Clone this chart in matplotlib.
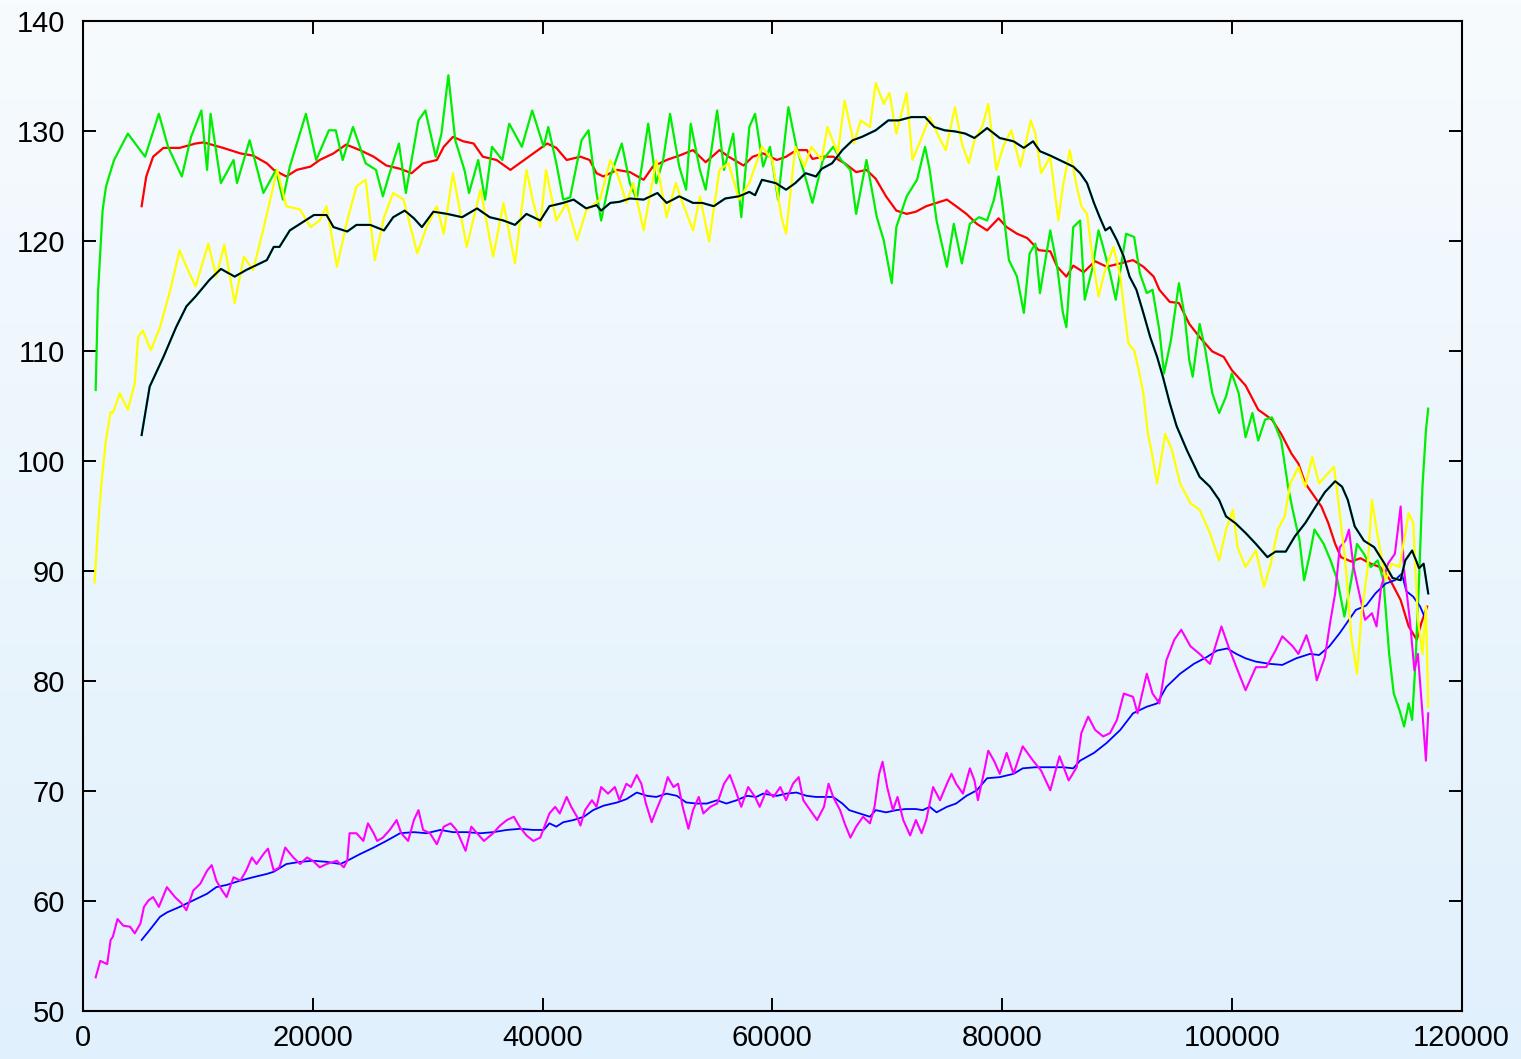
import numpy as np
import matplotlib
matplotlib.use("Agg")
import matplotlib.pyplot as plt
from matplotlib.colors import LinearSegmentedColormap

# ---- data ----
red_x = [5100, 5500, 6100, 7000, 8400, 9800, 10500, 12200, 13700, 14800, 16000, 16600, 17700, 18600,
         19800, 20600, 21800, 22900, 24100, 25300, 26400, 27600, 28600, 29600, 30800, 31400, 32200,
         33100, 34000, 34800, 36000, 37200, 38000, 39200, 40400, 41200, 42100, 43300, 44100, 44700,
         45300, 46500, 47600, 48800, 49600, 50800, 51900, 53100, 54200, 55400, 56200, 57500, 58300,
         59200, 60400, 61200, 62100, 63000, 63500, 64400, 65300, 66300, 67300, 68200, 69000, 69900,
         70800, 71700, 72500, 73400, 74300, 75200, 76000, 76900, 77800, 78700, 79700, 80400, 81300,
         82200, 83200, 84200, 84800, 85600, 86200, 87100, 88100, 89100, 90300, 91400, 92300, 93200,
         93700, 94600, 95400, 96300, 97200, 98300, 99300, 100000, 101200, 102300, 103500, 104300,
         105200, 105800, 106400, 107200, 107800, 108400, 109000, 109500, 110400, 111200, 112100,
         112900, 113800, 114700, 115400, 116100, 116500, 117000]
red_y = [123.2, 125.9, 127.7, 128.5, 128.5, 128.9, 129.0, 128.5, 128.0, 127.8, 127.1, 126.5, 125.9, 126.5,
         126.8, 127.4, 128.0, 128.8, 128.3, 127.7, 126.9, 126.6, 126.2, 127.1, 127.4, 128.6, 129.5,
         129.1, 128.9, 127.7, 127.4, 126.5, 127.1, 128.0, 128.9, 128.5, 127.4, 127.7, 127.4, 126.2,
         125.9, 126.5, 126.3, 125.6, 126.8, 127.4, 127.8, 128.3, 127.2, 128.3, 127.7, 126.9, 127.7,
         128.0, 127.4, 127.7, 128.3, 128.3, 127.5, 127.7, 127.7, 127.1, 126.3, 126.5, 125.7, 124.1,
         122.8, 122.5, 122.7, 123.2, 123.5, 123.8, 123.2, 122.5, 121.6, 121.0, 122.1, 121.3, 120.7,
         120.3, 119.2, 119.1, 117.7, 116.8, 117.8, 117.2, 118.2, 117.7, 118.0, 118.3, 117.7, 116.8,
         115.6, 114.5, 114.4, 112.5, 111.3, 110.0, 109.5, 108.3, 106.9, 104.7, 103.8, 102.5,
         100.7, 99.8, 98.0, 96.8, 95.9, 94.4, 92.5, 91.3, 90.9, 91.2, 90.7,
         90.4, 89.2, 87.4, 85.0, 83.8, 85.3, 86.8]

green_x = [1100, 1300, 1700, 2000, 2700, 3900, 5400, 6600, 7400, 8600, 9400, 10300, 10800, 11100, 12000,
           13100, 13400, 14500, 15700, 16800, 17400, 18000, 19400, 20300, 21400, 22000, 22600, 23500,
           24600, 25500, 26100, 26600, 27500, 28100, 29200, 29800, 30700, 31200, 31800, 32400, 33200,
           33600, 34400, 35000, 35600, 36500, 37100, 38200, 39100, 40100, 40500, 41200, 41800, 42400,
           43400, 44000, 44700, 45100, 45900, 46900, 47600, 48200, 49200, 49900, 50500, 51100, 51900,
           52500, 52900, 53700, 54200, 55200, 55800, 56600, 57300, 58000, 58500, 59200, 59800, 60500,
           61400, 62100, 62700, 63500, 64400, 65300, 66000, 66800, 67300, 68200, 69100, 69700, 70400,
           70800, 71700, 72600, 73300, 73700, 74300, 75200, 75800, 76500, 77200, 78000, 78700, 79300,
           79700, 80100, 80600, 81300, 81900, 82400, 82900, 83300, 84200, 84800, 85300, 85600, 86200,
           86800, 87200, 87900, 88400, 88800, 89400, 89900, 90800, 91500, 92000, 92600, 93100, 93700,
           94100, 94700, 95400, 95900, 96300, 96600, 97200, 97700, 98300, 98900, 99500, 100000, 100600,
           101200, 101800, 102300, 102900, 103500, 104300, 104900, 105300, 105900, 106300, 106800,
           107200, 108000, 108600, 109200, 109800, 110400, 110900, 111500, 112100, 112700, 113200,
           113700, 114100, 114600, 115000, 115400, 115700, 116000, 116300, 116600, 116900, 117100]
green_y = [106.5, 115.3, 122.8, 125.0, 127.4, 129.8, 127.7, 131.6, 128.6, 125.9, 129.5, 131.9, 126.5, 131.6, 125.3,
           127.4, 125.3, 129.2, 124.4, 126.5, 123.8, 126.8, 131.6, 127.4, 130.1, 130.1, 127.4, 130.4,
           127.1, 126.5, 124.1, 125.9, 128.9, 124.4, 131.0, 131.9, 127.7, 129.8, 135.1, 129.2, 126.5,
           124.4, 127.4, 123.8, 128.6, 127.4, 130.7, 128.6, 131.9, 128.6, 130.4, 127.1, 123.8, 124.0,
           129.2, 130.1, 124.4, 121.9, 125.9, 128.9, 125.3, 123.8, 130.7, 125.3, 127.4, 131.6, 126.8,
           124.7, 130.7, 126.5, 124.7, 131.9, 126.5, 129.8, 122.2, 130.4, 131.6, 126.8, 128.6, 123.8,
           132.2, 128.6, 126.5, 123.5, 127.4, 128.6, 127.4, 126.5, 122.5, 127.4, 122.2, 120.1, 116.2,
           121.3, 124.1, 125.6, 128.6, 126.5, 121.9, 117.7, 121.6, 118.0, 121.6, 122.2, 121.9, 123.8,
           125.9, 122.8, 118.3, 116.8, 113.5, 118.9, 119.8, 115.3, 121.0, 117.7, 113.5, 112.2, 121.3,
           121.9, 114.7, 117.7, 121.0, 119.5, 117.1, 114.7, 120.7, 120.4, 117.1, 115.3, 115.6, 111.9,
           108.0, 111.0, 116.2, 113.2, 109.2, 107.7, 112.5, 110.1, 106.2, 104.4, 105.9, 108.0, 106.2,
           102.2, 104.4, 101.9, 103.8, 104.0, 101.9, 97.7, 95.6, 92.8, 89.2, 91.6,
           93.8, 92.5, 91.0, 89.2, 85.9, 89.2, 92.5, 91.6, 90.4, 91.0, 89.2,
           82.5, 78.9, 77.4, 75.9, 78.0, 76.5, 81.9, 89.2, 97.7, 102.8, 104.8]

yellow_x = [1000, 1300, 1600, 2000, 2400, 2600, 3200, 3900, 4500, 4800, 5200, 5900, 6700, 7600, 8400, 9000,
            9800, 10900, 11600, 12300, 13200, 14000, 14800, 15600, 16300, 16900, 17700, 18900, 19800,
            20600, 21200, 22100, 23000, 23800, 24600, 25400, 26200, 27000, 27900, 29100, 29900, 30800,
            31400, 32200, 33400, 34600, 35700, 36600, 37600, 38600, 39200, 39800, 40300, 41200, 42100,
            43000, 43800, 45000, 45900, 46600, 47300, 47900, 48800, 49900, 50800, 51600, 52200, 53100,
            53700, 54500, 55400, 56200, 57100, 58000, 59100, 60000, 60800, 61200, 62000, 62800, 63400,
            64300, 64800, 65700, 66300, 67100, 67700, 68500, 69000, 69700, 70200, 70800, 71700, 72200,
            72800, 73700, 74500, 75100, 75900, 76500, 77100, 77600, 78300, 78800, 79500, 80100, 80800,
            81600, 82500, 82900, 83400, 84200, 84900, 85300, 85900, 86500, 86900, 87400, 87900, 88400,
            88900, 89700, 90300, 90600, 91000, 91500, 91900, 92300, 92700, 93000, 93500, 94200, 94800,
            95500, 96400, 97200, 98100, 98900, 99500, 100100, 100500, 101200, 102100, 102800, 103400,
            104000, 104600, 105100, 105800, 106400, 107000, 107600, 108100, 108900, 109400, 109900,
            110400, 110900, 111300, 111800, 112200, 112700, 113400, 113900, 114600, 115400, 115800,
            116200, 116600, 116900, 117100]
yellow_y = [89.0, 94.0, 98.0, 102.0, 104.5, 104.4, 106.2, 104.7, 107.1, 111.3, 111.9, 110.1, 112.2, 115.6, 119.2, 117.7,
            115.9, 119.8, 116.8, 119.7, 114.4, 118.6, 117.4, 120.7, 123.8, 126.5, 123.2, 122.9, 121.3,
            121.9, 123.2, 117.7, 121.9, 125.0, 125.6, 118.3, 122.2, 124.4, 123.8, 118.9, 121.3, 123.2,
            120.7, 126.2, 119.5, 124.7, 118.6, 123.5, 118.0, 126.5, 123.5, 121.3, 126.5, 121.9, 123.5,
            120.1, 122.8, 123.8, 127.4, 125.9, 123.5, 125.3, 121.0, 127.4, 122.2, 125.3, 123.5, 121.0,
            124.1, 120.0, 126.5, 127.1, 123.8, 125.3, 128.6, 127.4, 122.2, 120.7, 128.6, 126.8, 128.6,
            127.4, 130.4, 128.0, 132.8, 128.9, 131.0, 130.4, 134.4, 132.5, 133.5, 129.8, 133.5, 127.4,
            128.9, 131.3, 129.5, 128.3, 132.2, 128.9, 127.1, 129.2, 130.5, 132.5, 126.5, 128.6, 130.1,
            126.8, 131.0, 129.8, 126.2, 127.7, 121.9, 125.0, 128.3, 125.0, 123.2, 122.5, 118.3, 115.0,
            117.1, 119.5, 116.8, 114.1, 110.7, 110.1, 108.3, 106.2, 102.5, 101.0, 98.0, 102.5, 101.0,
            98.0, 96.2, 95.6, 93.5, 91.0, 93.8, 95.6, 92.2, 90.4, 91.9, 88.6, 90.7,
            93.8, 95.0, 98.0, 99.5, 97.7, 100.4, 98.0, 98.6, 99.5, 95.3, 90.7,
            84.1, 80.7, 86.2, 90.1, 96.5, 93.2, 89.2, 90.7, 90.4, 95.3, 94.4,
            85.6, 82.5, 86.8, 77.7]

black_x = [5100, 5800, 7000, 8100, 9000, 9800, 11000, 12000, 13200, 14200, 15400, 16000, 16600, 17100, 18000,
           18900, 20100, 21200, 21800, 23000, 23800, 25000, 26200, 27000, 28000, 28800, 29500, 30500,
           31700, 33000, 34300, 35400, 36600, 37600, 38600, 39800, 40600, 41800, 42700, 43800, 44700,
           45100, 45900, 46700, 47600, 48800, 50000, 50800, 51900, 53100, 53900, 54900, 55900, 57100,
           58000, 58500, 59100, 60300, 61200, 62000, 62900, 63800, 64300, 65200, 66100, 67000, 67800,
           69000, 70100, 71000, 72100, 73300, 74100, 75000, 75900, 76800, 77600, 78700, 79800, 81000,
           81900, 82700, 83300, 84200, 85000, 86200, 86800, 87400, 88000, 88500, 89000, 89400, 90000,
           90600, 91100, 91700, 92300, 92900, 93500, 94000, 94600, 95200, 96100, 97200, 98100, 98900,
           99500, 100300, 101200, 102100, 103100, 103800, 104700, 105500, 106400, 107300, 108100,
           109000, 109600, 110100, 110700, 111500, 112400, 113300, 114000, 114700, 115100, 115700,
           116300, 116700, 117100]
black_y = [102.4, 106.8, 109.5, 112.2, 114.1, 115.0, 116.5, 117.5, 116.8, 117.4, 118.0, 118.3, 119.5, 119.5, 121.0,
           121.6, 122.4, 122.4, 121.3, 120.9, 121.5, 121.5, 121.0, 122.2, 122.8, 122.1, 121.3, 122.7,
           122.5, 122.2, 123.0, 122.2, 121.9, 121.5, 122.5, 121.9, 123.2, 123.5, 123.8, 123.0, 123.3,
           122.8, 123.5, 123.6, 123.9, 123.8, 124.4, 123.5, 124.1, 123.5, 123.5, 123.2, 123.9, 124.1,
           124.5, 124.2, 125.6, 125.3, 124.7, 125.3, 126.2, 125.9, 126.6, 127.1, 128.3, 129.2, 129.5,
           130.1, 131.0, 131.0, 131.3, 131.3, 130.4, 130.1, 130.0, 129.8, 129.4, 130.3, 129.4, 129.1,
           128.5, 129.1, 128.2, 127.8, 127.4, 126.8, 126.2, 125.3, 123.5, 122.2, 121.0, 121.3, 120.1,
           118.6, 116.8, 115.6, 113.5, 111.3, 109.5, 107.7, 105.3, 103.2, 101.0, 98.6, 97.7, 96.5,
           95.0, 94.4, 93.5, 92.5, 91.3, 91.8, 91.8, 93.2, 94.4, 95.9, 97.2,
           98.2, 97.7, 96.5, 94.1, 92.8, 92.2, 90.7, 89.4, 89.2, 91.0, 91.9,
           90.3, 90.7, 88.0]

magenta_x = [1100, 1500, 2100, 2400, 2600, 3000, 3500, 4100, 4500, 5000, 5300, 5700, 6100, 6600, 7300, 8000,
             8600, 9000, 9600, 10200, 10800, 11200, 11600, 12100, 12500, 13100, 13700, 14200, 14700,
             15100, 15700, 16100, 16600, 17100, 17600, 18300, 18900, 19500, 20000, 20600, 21200, 22100,
             22700, 23000, 23200, 23800, 24400, 24800, 25300, 25600, 26100, 26700, 27300, 27700, 28300,
             28800, 29200, 29600, 30200, 30800, 31400, 32000, 32500, 33300, 33800, 34300, 34900, 35700,
             36300, 36900, 37500, 38000, 38600, 39200, 39800, 40600, 41100, 41500, 42100, 42500, 43000,
             43300, 43700, 44300, 44700, 45100, 45700, 46300, 46700, 47300, 47700, 48200, 48600, 49000,
             49500, 49900, 50500, 50900, 51400, 51800, 52200, 52700, 53100, 53600, 54000, 54600, 55200,
             55800, 56300, 56800, 57300, 57900, 58500, 58900, 59500, 60100, 60700, 61200, 61800, 62300,
             62700, 63300, 63900, 64500, 64900, 65300, 65900, 66300, 66800, 67300, 67900, 68500, 68900,
             69300, 69600, 70000, 70500, 70900, 71400, 72000, 72500, 73000, 73400, 74000, 74600, 75200,
             75600, 76000, 76600, 77200, 77600, 77900, 78400, 78800, 79300, 79800, 80400, 81000, 81800,
             82700, 83400, 84200, 85000, 85800, 86500, 86900, 87500, 88100, 88800, 89400, 90000, 90600,
             91400, 91800, 92600, 93100, 93700, 94300, 95000, 95600, 96400, 97200, 98100, 99100, 99700,
             100400, 101200, 102100, 103000, 103800, 104400, 105300, 105800, 106500, 107000, 107400,
             108100, 108600, 109000, 109400, 109900, 110200, 110600, 111100, 111600, 112200, 112600,
             113000, 113600, 114200, 114700, 115000, 115500, 115900, 116200, 116600, 116900, 117100]
magenta_y = [53.1, 54.6, 54.3, 56.5, 56.8, 58.4, 57.8, 57.7, 57.1, 58.0, 59.5, 60.1, 60.4, 59.5, 61.3, 60.4,
             59.8, 59.2, 61.0, 61.6, 62.8, 63.3, 61.9, 61.0, 60.4, 62.2, 61.9, 62.8, 64.0,
             63.4, 64.3, 64.8, 62.8, 63.1, 64.9, 64.0, 63.4, 64.0, 63.7, 63.1, 63.4, 63.7,
             63.1, 63.7, 66.2, 66.2, 65.5, 67.1, 66.2, 65.5, 65.8, 66.5, 67.4, 66.2, 65.5,
             67.4, 68.3, 66.5, 66.2, 65.2, 66.8, 67.1, 66.5, 64.6, 66.8, 66.2, 65.5, 66.2,
             66.9, 67.4, 67.7, 66.8, 66.0, 65.5, 65.8, 68.0, 68.6, 68.0, 69.5, 68.6, 67.7,
             66.9, 68.3, 69.2, 68.6, 70.4, 69.8, 70.4, 69.2, 70.7, 70.4, 71.5, 70.7, 68.9,
             67.2, 68.3, 69.8, 71.3, 70.4, 70.7, 68.6, 66.6, 68.3, 69.5, 68.0, 68.6, 68.9,
             70.7, 71.5, 70.1, 68.6, 70.4, 69.5, 68.6, 70.1, 69.5, 70.4, 69.2, 70.7, 71.3,
             69.2, 68.3, 67.4, 68.6, 70.7, 69.5, 68.3, 67.1, 65.8, 66.8, 67.7, 67.1, 68.6,
             71.6, 72.7, 70.4, 68.3, 69.5, 67.4, 66.0, 67.4, 66.2, 67.4, 70.4, 69.2, 70.7,
             71.6, 70.7, 69.8, 72.1, 71.0, 69.2, 71.6, 73.7, 72.8, 71.6, 73.5, 71.6, 74.1,
             72.8, 71.9, 70.1, 73.2, 71.0, 72.2, 75.3, 76.8, 75.6, 75.0, 75.3, 76.5, 78.9,
             78.6, 77.1, 80.7, 78.9, 78.0, 81.9, 83.8, 84.7, 83.2, 82.5, 81.6, 85.0, 83.2,
             81.3, 79.2, 81.3, 81.3, 82.8, 84.1, 83.2, 82.5, 84.2, 82.5, 80.1,
             82.2, 85.6, 88.0, 92.2, 92.8, 93.8, 90.4, 88.0, 85.6, 86.2, 85.0,
             88.6, 90.7, 91.6, 95.9, 90.1, 85.6, 81.0, 82.5, 77.1, 72.8, 77.1]

blue_x = [5100, 5800, 6700, 7300, 8400, 9600, 10800, 11600, 12500, 13700, 14800, 16000, 16600, 17700, 18900,
          20000, 21200, 22400, 23000, 24100, 25300, 26400, 27600, 28800, 29900, 31100, 32200, 33400,
          34600, 35700, 36900, 38000, 39200, 40100, 40600, 41200, 41800, 42700, 43600, 44400, 45300,
          46500, 47300, 48200, 49100, 49900, 50800, 51700, 52500, 53400, 54300, 55200, 56000, 56900,
          57800, 58600, 59200, 60400, 61200, 62100, 63000, 63800, 64400, 65300, 66100, 66700, 67600,
          68500, 69000, 69900, 70800, 71600, 72500, 73100, 73700, 74300, 75200, 76000, 76900, 77800,
          78700, 79800, 81000, 81800, 82900, 84200, 85300, 86200, 86800, 88000, 89100, 90300, 91400,
          92600, 93500, 94300, 95500, 96700, 97800, 98700, 99600, 100400, 101200, 102100, 103300,
          104400, 105600, 106800, 107600, 108500, 109400, 110200, 110800, 111700, 112500, 113400,
          114200, 114800, 115200, 115800, 116400, 116900]
blue_y = [56.5, 57.4, 58.6, 59.0, 59.5, 60.1, 60.7, 61.3, 61.5, 61.9, 62.2, 62.5, 62.7, 63.4, 63.6,
          63.7, 63.6, 63.4, 63.7, 64.3, 64.9, 65.5, 66.2, 66.3, 66.2, 66.5, 66.3, 66.3,
          66.2, 66.3, 66.5, 66.6, 66.5, 66.5, 67.1, 66.8, 67.2, 67.4, 67.7, 68.3, 68.7,
          69.0, 69.3, 69.9, 69.6, 69.5, 69.8, 69.6, 69.0, 68.9, 68.9, 69.2, 68.9, 69.2,
          69.6, 69.5, 69.8, 69.6, 69.8, 69.9, 69.6, 69.5, 69.5, 69.5, 68.9, 68.3, 68.0,
          67.7, 68.3, 68.1, 68.3, 68.4, 68.4, 68.3, 68.6, 68.1, 68.6, 68.9, 69.6, 70.1,
          71.2, 71.3, 71.6, 72.1, 72.2, 72.2, 72.2, 72.1, 72.8, 73.5, 74.4, 75.6, 77.1,
          77.7, 78.0, 79.5, 80.7, 81.6, 82.2, 82.8, 83.0, 82.5, 82.1, 81.8, 81.6,
          81.5, 82.1, 82.5, 82.4, 83.2, 84.4, 85.6, 86.5, 86.9, 88.0, 88.9,
          89.2, 89.8, 88.2, 87.7, 86.8, 85.6]

x_ticks = [0, 20000, 40000, 60000, 80000, 100000, 120000]
y_ticks = [50, 60, 70, 80, 90, 100, 110, 120, 130, 140]

plt.rcParams["font.family"] = ["Liberation Sans", "DejaVu Sans"]

fig = plt.figure(figsize=(15.21, 10.59), dpi=100)

# background gradient over whole figure
bg = fig.add_axes([0, 0, 1, 1], zorder=-10)
grad = np.linspace(0, 1, 256).reshape(-1, 1)
cmap = LinearSegmentedColormap.from_list("bg", ["#f7fbfe", "#e0f0fc"])
bg.imshow(grad, aspect="auto", cmap=cmap, extent=[0, 1, 0, 1])
bg.axis("off")

ax = fig.add_axes([0.0546, 0.0449, 0.9063, 0.9349])
ax.patch.set_alpha(0)

# gnuplot default order: red, green, blue, magenta, cyan, yellow, black
ax.plot(red_x, red_y, color="#ff0000", lw=1.6)
ax.plot(green_x, green_y, color="#00ee00", lw=1.6)
ax.plot(blue_x, blue_y, color="#0000ff", lw=1.3)
ax.plot(magenta_x, magenta_y, color="#ff00ff", lw=1.5)
ax.plot(black_x, black_y, color="#00e5ee", lw=1.7)
ax.plot(yellow_x, yellow_y, color="#ffff00", lw=1.6)
ax.plot(black_x, black_y, color="#000000", lw=1.4)

ax.set_xlim(0, 120000)
ax.set_ylim(50, 140)
ax.set_xticks(x_ticks)
ax.set_yticks(y_ticks)
ax.tick_params(direction="in", length=9.5, width=1.4, top=True, right=True,
               labelsize=21, colors="black")
ax.tick_params(axis="y", pad=13)
ax.tick_params(axis="x", pad=9)
for s in ax.spines.values():
    s.set_linewidth(1.5)

fig.savefig("out.png", dpi=100)
